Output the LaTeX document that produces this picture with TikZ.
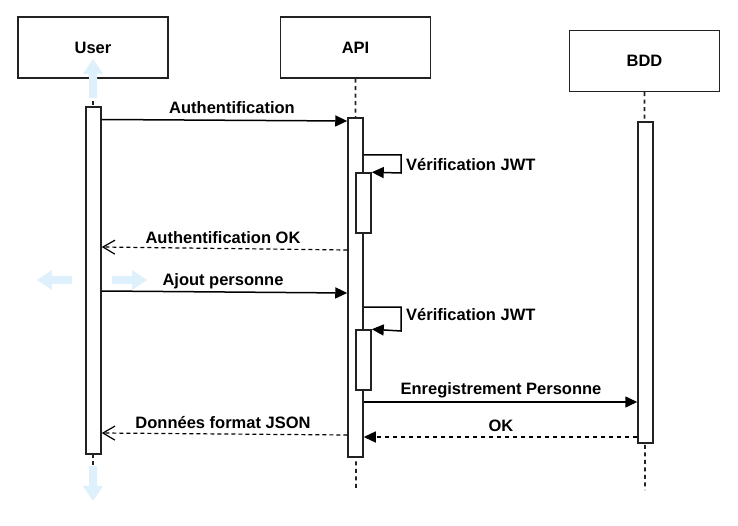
\documentclass[tikz,border=0pt]{standalone}
\usepackage{fontspec}
\setmainfont{Liberation Sans}
\usetikzlibrary{arrows.meta}
\definecolor{ln}{HTML}{222222}
\definecolor{hov}{HTML}{DDF0FB}
\tikzset{
  actor/.style={draw=ln, line width=1.5pt, fill=white, minimum width=150pt, minimum height=61pt, inner sep=0pt, font=\fontsize{16.5}{18}\selectfont\bfseries},
  act/.style={draw=ln, line width=1.5pt, fill=white, minimum width=15pt, inner sep=0pt},
  life/.style={draw=ln, line width=1.6pt, dash pattern=on 4pt off 3.5pt},
  msg/.style={draw=black, line width=1.5pt, -{Triangle[length=12pt,width=11pt]}},
  ret/.style={draw=black, line width=1.2pt, dash pattern=on 4pt off 3pt, -{Straight Barb[length=12pt,width=14pt,line width=1.2pt]}},
  retf/.style={draw=black, line width=1.4pt, dash pattern=on 4pt off 4pt, -{Triangle[length=12pt,width=11pt]}},
  lbl/.style={font=\fontsize{16.5}{18}\selectfont\bfseries, inner sep=1pt},
  hovarrow/.style={fill=hov, draw=none}
}
\begin{document}
\begin{tikzpicture}[x=1pt,y=-1pt]
\useasboundingbox (0,0) rectangle (738,526);
% actors
\node[actor] (user) at (93,47.5) {User};
\node[actor] (api) at (355.5,47.5) {API};
\node[actor] (bdd) at (644.5,61) {BDD};
% lifeline ends
\coordinate (uend) at (93,498);
\coordinate (aend) at (356,488);
\coordinate (bend) at (645,490);
\draw[life] (user.south) -- (uend);
\draw[life] (api.south) -- (aend);
\draw[life] (bdd.south) -- (bend);
% activations
\node[act, minimum height=347pt] (ua) at (93.5,280.5) {};
\node[act, minimum height=339pt] (aa) at (355.5,287.5) {};
\node[act, minimum height=60pt] (as1) at (363.5,203) {};
\node[act, minimum height=60pt] (as2) at (363.5,360) {};
\node[act, minimum height=321pt] (ba) at (645.5,282.5) {};
% hover artifacts
\fill[hov] (89,98) -- (89,74) -- (83,74) -- (93,59) -- (103,74) -- (97,74) -- (97,98) -- cycle;
\fill[hov] (89,466) -- (89,486) -- (83,486) -- (93,501) -- (103,486) -- (97,486) -- (97,466) -- cycle;
\fill[hov] (72,276) -- (52,276) -- (52,270) -- (37,280) -- (52,290) -- (52,284) -- (72,284) -- cycle;
\fill[hov] (112,276) -- (132,276) -- (132,270) -- (147,280) -- (132,290) -- (132,284) -- (112,284) -- cycle;
% messages
\draw[msg] (ua.east |- 0,119.5) -- (aa.west |- 0,121);
\node[lbl] (l1) at (232,107.5) {Authentification};
\draw[msg] (aa.east |- 0,155) -- (401,155) -- (401,173) -- (as1.north east);
\node[lbl, anchor=west] (l2) at (405,165) {Vérification JWT};
\draw[ret] (aa.west |- 0,250) -- (ua.east |- 0,247);
\node[lbl] (l3) at (223,237.5) {Authentification OK};
\draw[msg] (ua.east |- 0,291) -- (aa.west |- 0,293);
\node[lbl, fill=white] (l4) at (223,281.5) {Ajout personne};
\draw[msg] (aa.east |- 0,307) -- (401,307) -- (401,331) -- (as2.north east);
\node[lbl, anchor=west] (l5) at (405,314.5) {Vérification JWT};
\draw[msg] (aa.east |- 0,402) -- (ba.west |- 0,402);
\node[lbl] (l6) at (501,390.5) {Enregistrement Personne};
\draw[retf] (ba.west |- 0,437) -- (aa.east |- 0,437);
\node[lbl] (l7) at (501,425.5) {OK};
\draw[ret] (aa.west |- 0,435) -- (ua.east |- 0,433);
\node[lbl] (l8) at (223,422.5) {Données format JSON};
\end{tikzpicture}
\end{document}
